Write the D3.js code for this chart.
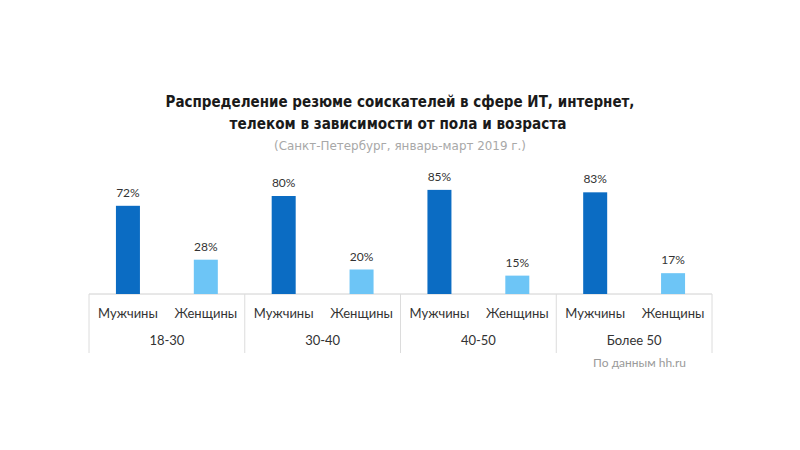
<!DOCTYPE html>
<html>
<head>
<meta charset="utf-8">
<script src="https://cdn.jsdelivr.net/npm/d3@7"></script>
<style>
  body { margin: 0; background: #fff; }
  text { font-family: Lato, "Open Sans", sans-serif; }
</style>
</head>
<body>
<svg width="800" height="450"></svg>
<script>
const groups = ["18-30", "30-40", "40-50", "Более 50"];
const genders = ["Мужчины", "Женщины"];
const men = [72, 80, 85, 83];
const women = [28, 20, 15, 17];

const rows = groups.map((g, i) => ({group: g, values: [
  {gender: genders[0], value: men[i]},
  {gender: genders[1], value: women[i]}
]}));

const svg = d3.select("svg");
const colors = d3.scaleOrdinal().domain(genders).range(["#0b6cc3", "#6dc5f6"]);

const x0 = d3.scaleBand().domain(groups).range([89, 712]);
const x1 = d3.scalePoint().domain(genders).range([0, x0.bandwidth()]).padding(0.5);
const y = d3.scaleLinear().domain([0, 100]).range([294, 171.5]);
const barW = 24;

// title (squeezed to look like the condensed original)
const tfont = "'Liberation Sans Narrow', 'DejaVu Sans Condensed', sans-serif";
const title = svg.append("g").attr("text-anchor", "middle");
title.append("text").attr("x", 400).attr("y", 107)
  .style("font-family", tfont).style("font-weight", "bold").style("font-size", "16.5px")
  .attr("fill", "#1a1a1a").attr("textLength", 469).attr("lengthAdjust", "spacingAndGlyphs")
  .text("Распределение резюме соискателей в сфере ИТ, интернет,");
title.append("text").attr("x", 398).attr("y", 129)
  .style("font-family", tfont).style("font-weight", "bold").style("font-size", "16.5px")
  .attr("fill", "#1a1a1a").attr("textLength", 337).attr("lengthAdjust", "spacingAndGlyphs")
  .text("телеком в зависимости от пола и возраста");
title.append("text").attr("x", 400).attr("y", 150)
  .style("font-family", tfont).style("font-size", "13px").attr("fill", "#a8a8a8")
  .attr("textLength", 252).attr("lengthAdjust", "spacingAndGlyphs")
  .text("(Санкт-Петербург, январь-март 2019 г.)");

// baseline and separators
svg.append("line").attr("x1", x0.range()[0]).attr("x2", x0.range()[1])
  .attr("y1", y(0)).attr("y2", y(0)).attr("stroke", "#d0d0d0");
const seps = groups.map(g => x0(g)).concat([x0.range()[1]]);
svg.selectAll(".sep").data(seps).enter().append("line").attr("class", "sep")
  .attr("x1", d => d).attr("x2", d => d).attr("y1", y(0)).attr("y2", 353)
  .attr("stroke", "#dcdcdc");

const g = svg.selectAll(".grp").data(rows).enter().append("g")
  .attr("class", "grp").attr("transform", d => `translate(${x0(d.group)},0)`);

g.selectAll("rect").data(d => d.values).enter().append("rect")
  .attr("x", d => x1(d.gender) - barW / 2).attr("width", barW)
  .attr("y", d => y(d.value)).attr("height", d => y(0) - y(d.value))
  .attr("fill", d => colors(d.gender));

g.selectAll(".val").data(d => d.values).enter().append("text").attr("class", "val")
  .attr("x", d => x1(d.gender)).attr("y", d => y(d.value) - 9)
  .attr("text-anchor", "middle").style("font-size", "12px").attr("fill", "#333")
  .text(d => d.value + "%");

g.selectAll(".cat").data(d => d.values).enter().append("text").attr("class", "cat")
  .attr("x", d => x1(d.gender)).attr("y", 318)
  .attr("text-anchor", "middle").style("font-size", "13px").attr("fill", "#333")
  .text(d => d.gender);

g.append("text").attr("x", x0.bandwidth() / 2).attr("y", 345)
  .attr("text-anchor", "middle").style("font-size", "13px").attr("fill", "#333")
  .text(d => d.group);

svg.append("text").attr("x", 686).attr("y", 367).attr("text-anchor", "end")
  .style("font-size", "12px").attr("fill", "#9a9a9a").text("По данным hh.ru");
</script>
</body>
</html>
